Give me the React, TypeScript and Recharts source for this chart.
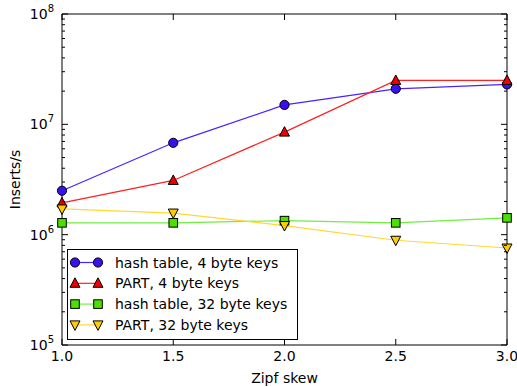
import React from "react";
import { LineChart, Line, XAxis, YAxis, Legend, ReferenceArea } from "recharts";

const skew = [1.0, 1.5, 2.0, 2.5, 3.0];
const hash4 = [2.5e6, 6.8e6, 1.5e7, 2.1e7, 2.3e7];
const part4 = [1.94e6, 3.1e6, 8.5e6, 2.5e7, 2.5e7];
const hash32 = [1.28e6, 1.28e6, 1.34e6, 1.28e6, 1.42e6];
const part32 = [1.71e6, 1.57e6, 1.21e6, 0.89e6, 0.757e6];

const xTicks = [1.0, 1.5, 2.0, 2.5, 3.0];
const majorExps = [5, 6, 7, 8];

const yTicks: number[] = [];
majorExps.forEach((e) => {
  yTicks.push(Math.pow(10, e));
  if (e < 8) for (let m = 2; m <= 9; m++) yTicks.push(m * Math.pow(10, e));
});

const data = skew.map((s, i) => ({
  skew: s,
  hash4: hash4[i],
  part4: part4[i],
  hash32: hash32[i],
  part32: part32[i],
}));

type Shape = "circle" | "up" | "square" | "down";
const series: { key: string; name: string; line: string; fill: string; shape: Shape }[] = [
  { key: "hash4", name: "hash table, 4 byte keys", line: "#4a22ff", fill: "#3a10ee", shape: "circle" },
  { key: "part4", name: "PART, 4 byte keys", line: "#ff2020", fill: "#ee0000", shape: "up" },
  { key: "hash32", name: "hash table, 32 byte keys", line: "#70ee40", fill: "#4ae000", shape: "square" },
  { key: "part32", name: "PART, 32 byte keys", line: "#ffd830", fill: "#ffcc00", shape: "down" },
];

const FONT = "DejaVu Sans";
const PLOT_W = 445;
const PLOT_H = 331;

function Marker({ cx, cy, shape, fill }: { cx: number; cy: number; shape: Shape; fill: string }) {
  if (shape === "circle") return <circle cx={cx} cy={cy} r={4.6} fill={fill} stroke="#000" strokeWidth={1} />;
  if (shape === "square")
    return <rect x={cx - 4.3} y={cy - 4.3} width={8.6} height={8.6} fill={fill} stroke="#000" strokeWidth={1} />;
  if (shape === "up")
    return (
      <polygon
        points={`${cx},${cy - 5.5} ${cx + 5},${cy + 4} ${cx - 5},${cy + 4}`}
        fill={fill}
        stroke="#000"
        strokeWidth={1}
      />
    );
  return (
    <polygon
      points={`${cx},${cy + 5.5} ${cx + 5},${cy - 4} ${cx - 5},${cy - 4}`}
      fill={fill}
      stroke="#000"
      strokeWidth={1}
    />
  );
}

function YTick(props: any) {
  const { x, y, payload } = props;
  const v = payload.value as number;
  const e = Math.round(Math.log10(v));
  const major = Math.abs(v - Math.pow(10, e)) < 1e-6 * v;
  const len = major ? 6 : 3;
  return (
    <g>
      <line x1={x} y1={y} x2={x + len} y2={y} stroke="#000" strokeWidth={1} />
      <line x1={x + PLOT_W} y1={y} x2={x + PLOT_W - len} y2={y} stroke="#000" strokeWidth={1} />
      {major && (
        <text x={x - 8} y={y + 5} textAnchor="end" fontFamily={FONT} fontSize={14} fill="#000">
          10
          <tspan dy={-7} fontSize={10}>
            {e}
          </tspan>
        </text>
      )}
    </g>
  );
}

function XTick(props: any) {
  const { x, y, payload } = props;
  const v = payload.value as number;
  return (
    <g>
      <line x1={x} y1={y} x2={x} y2={y - 6} stroke="#000" strokeWidth={1} />
      <line x1={x} y1={y - PLOT_H} x2={x} y2={y - PLOT_H + 6} stroke="#000" strokeWidth={1} />
      <text x={x} y={y + 16} textAnchor="middle" fontFamily={FONT} fontSize={14} fill="#000">
        {v.toFixed(1)}
      </text>
    </g>
  );
}

function LegendBox() {
  return (
    <svg width={232} height={92} style={{ display: "block" }}>
      <rect x={0.5} y={0.5} width={230} height={90} fill="#fff" stroke="#000" strokeWidth={1} />
      {series.map((s, i) => {
        const cy = 13.5 + i * 20.8;
        return (
          <g key={s.key}>
            <line x1={8} y1={cy} x2={31} y2={cy} stroke={s.line} strokeWidth={1.2} />
            <Marker cx={8} cy={cy} shape={s.shape} fill={s.fill} />
            <Marker cx={31} cy={cy} shape={s.shape} fill={s.fill} />
            <text x={48} y={cy + 5} fontFamily={FONT} fontSize={14} fill="#000">
              {s.name}
            </text>
          </g>
        );
      })}
    </svg>
  );
}

export default function App() {
  return (
    <div style={{ position: "absolute", left: 0, top: 0, background: "#fff" }}>
      <LineChart width={517} height={387} data={data} margin={{ top: 14, right: 10, bottom: 0, left: 0 }}>
        <XAxis
          dataKey="skew"
          type="number"
          domain={[1, 3]}
          ticks={xTicks}
          tickSize={0}
          tickMargin={0}
          tickLine={false}
          axisLine={false}
          tick={<XTick />}
          height={42}
          label={{ value: "Zipf skew", position: "insideBottom", offset: 4, fontFamily: FONT, fontSize: 14, fill: "#000" }}
        />
        <YAxis
          scale="log"
          domain={[1e5, 1e8]}
          ticks={yTicks}
          interval={0}
          allowDataOverflow
          tickSize={0}
          tickMargin={0}
          tickLine={false}
          axisLine={false}
          tick={<YTick />}
          width={62}
          label={{ value: "Inserts/s", angle: -90, position: "insideLeft", offset: 15, fontFamily: FONT, fontSize: 14, fill: "#000", style: { textAnchor: "middle" } }}
        />
        {series.map((s) => (
          <Line
            key={s.key}
            dataKey={s.key}
            name={s.name}
            stroke={s.line}
            strokeWidth={1.2}
            isAnimationActive={false}
            dot={(p: any) => <Marker key={`${s.key}-${p.index}`} cx={p.cx} cy={p.cy} shape={s.shape} fill={s.fill} />}
            activeDot={false}
          />
        ))}
        <ReferenceArea x1={1} x2={3} y1={1e5} y2={1e8} fill="none" stroke="#000" strokeWidth={1} ifOverflow="visible" />
        <Legend
          layout="vertical"
          align="center"
          verticalAlign="middle"
          wrapperStyle={{ left: 67, top: 249, width: 232, height: 92 }}
          content={() => <LegendBox />}
        />
      </LineChart>
    </div>
  );
}
